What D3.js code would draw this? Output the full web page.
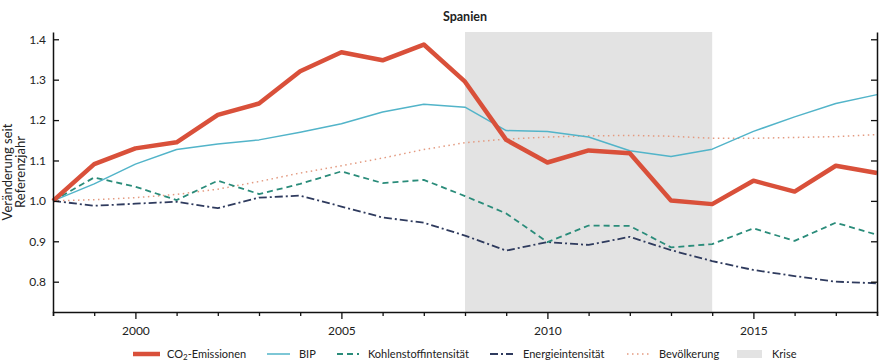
<!DOCTYPE html>
<html>
<head>
<meta charset="utf-8">
<script src="https://cdn.jsdelivr.net/npm/d3@7"></script>
<style>
  body { margin: 0; background: #fff; }
  text { font-family: Lato, "Open Sans", sans-serif; fill: #222; }
</style>
</head>
<body>
<script>
(function () {
  'use strict';

  const width = 880,
    height = 361;

  // data
  var years = d3.range(1998, 2019);
  var co2 = [1.0, 1.091, 1.130, 1.145, 1.213, 1.241, 1.321, 1.368, 1.348, 1.387, 1.295,
    1.151, 1.095, 1.125, 1.118, 1.001, 0.992, 1.050, 1.023, 1.087, 1.069];
  var bip = [1.0, 1.042, 1.091, 1.127, 1.141, 1.151, 1.170, 1.191, 1.220, 1.239, 1.232,
    1.174, 1.172, 1.158, 1.124, 1.110, 1.128, 1.172, 1.208, 1.241, 1.263];
  var kohlenstoff = [1.0, 1.058, 1.035, 1.002, 1.050, 1.017, 1.042, 1.073, 1.044, 1.052, 1.012,
    0.969, 0.898, 0.939, 0.938, 0.885, 0.893, 0.932, 0.901, 0.946, 0.916];
  var energie = [1.0, 0.988, 0.993, 0.998, 0.982, 1.008, 1.013, 0.986, 0.959, 0.946, 0.914,
    0.877, 0.898, 0.891, 0.911, 0.878, 0.851, 0.829, 0.814, 0.800, 0.796];
  var bevoelkerung = [1.0, 1.003, 1.008, 1.016, 1.029, 1.048, 1.069, 1.087, 1.106, 1.127, 1.144,
    1.153, 1.158, 1.161, 1.162, 1.160, 1.155, 1.155, 1.157, 1.159, 1.164];
  var krise = [2008, 2014];
  var yTicks = [0.8, 0.9, 1.0, 1.1, 1.2, 1.3, 1.4];
  var xTicks = [2000, 2005, 2010, 2015];

  var series = [
    { name: 'CO2-Emissionen', values: co2, color: '#d9503a', width: 4.5, dash: null },
    { name: 'BIP', values: bip, color: '#52b4c9', width: 1.5, dash: null },
    { name: 'Kohlenstoffintensität', values: kohlenstoff, color: '#2a8c7a', width: 1.8, dash: '6,4' },
    { name: 'Energieintensität', values: energie, color: '#2f3b5e', width: 1.8, dash: '8,3,2,3' },
    { name: 'Bevölkerung', values: bevoelkerung, color: '#e39a80', width: 1.5, dash: '1.5,3.5' }
  ];

  var margin = { top: 32, right: 3, bottom: 49, left: 53 };

  var svg = d3.select('body')
    .append('svg')
    .attr('width', width)
    .attr('height', height);

  var x = d3.scaleLinear()
    .domain([1998, 2018])
    .range([margin.left, width - margin.right]);

  var y = d3.scaleLinear()
    .domain([0.725, 1.418])
    .range([height - margin.bottom, margin.top]);

  // crisis band
  svg.append('rect')
    .attr('x', x(krise[0]))
    .attr('y', margin.top)
    .attr('width', x(krise[1]) - x(krise[0]))
    .attr('height', y.range()[0] - margin.top)
    .style('fill', '#e3e3e3');

  // lines
  var line = d3.line()
    .x((d, i) => x(years[i]))
    .y(d => y(d));

  // draw thin ones first, CO2 on top
  [4, 3, 2, 1, 0].forEach(function (k) {
    var s = series[k];
    svg.append('path')
      .datum(s.values)
      .attr('d', line)
      .style('fill', 'none')
      .style('stroke', s.color)
      .style('stroke-width', s.width)
      .style('stroke-dasharray', s.dash)
      .style('stroke-linejoin', 'round');
  });

  // axes
  var axisColor = '#111';

  var gLeft = svg.append('g')
    .attr('transform', 'translate(' + margin.left + ',0)')
    .call(d3.axisRight(y).tickValues(yTicks).tickSize(6).tickFormat(d3.format('.1f')).tickSizeOuter(0));
  gLeft.selectAll('text')
    .attr('x', -7)
    .style('text-anchor', 'end')
    .style('font-size', '12px');

  var gRight = svg.append('g')
    .attr('transform', 'translate(' + (width - margin.right) + ',0)')
    .call(d3.axisLeft(y).tickValues(yTicks).tickSize(6).tickFormat('').tickSizeOuter(0));

  var gBottom = svg.append('g')
    .attr('transform', 'translate(0,' + y.range()[0] + ')')
    .call(d3.axisBottom(x).tickValues(years).tickSizeOuter(0)
      .tickSize(4)
      .tickFormat(d => xTicks.includes(d) ? d : ''));
  gBottom.selectAll('.tick line')
    .attr('y2', d => xTicks.includes(d) ? 7 : 4);
  gBottom.selectAll('text')
    .attr('y', 14)
    .style('font-size', '12px');

  [gLeft, gRight, gBottom].forEach(function (g) {
    g.select('.domain').style('stroke', axisColor).style('stroke-width', 1.5);
    g.selectAll('.tick line').style('stroke', axisColor).style('stroke-width', 1.3);
    g.selectAll('text').style('fill', '#222').style('font-family', 'Lato, sans-serif');
  });

  // title
  svg.append('text')
    .attr('x', (margin.left + width - margin.right) / 2)
    .attr('y', 21)
    .attr('text-anchor', 'middle')
    .style('font-size', '12.5px')
    .style('font-weight', 'bold')
    .text('Spanien');

  // y label
  var yl = svg.append('text')
    .attr('transform', 'translate(12,' + (margin.top + height - margin.bottom) / 2 + ') rotate(-90)')
    .attr('text-anchor', 'middle')
    .style('font-size', '13px');
  yl.append('tspan').attr('x', 0).attr('dy', 0).text('Veränderung seit');
  yl.append('tspan').attr('x', 0).attr('dy', 13).text('Referenzjahr');

  // legend
  var legendItems = [
    { s: series[0], x: 133, tx: 167, sw: 27 },
    { s: series[1], x: 267, tx: 299, sw: 23 },
    { s: series[2], x: 337, tx: 368, sw: 22 },
    { s: series[3], x: 490, tx: 523, sw: 23 },
    { s: series[4], x: 627, tx: 659, sw: 23 }
  ];
  var ly = 354;
  legendItems.forEach(function (it) {
    svg.append('line')
      .attr('x1', it.x)
      .attr('x2', it.x + it.sw)
      .attr('y1', ly)
      .attr('y2', ly)
      .style('stroke', it.s.color)
      .style('stroke-width', it.s.width)
      .style('stroke-dasharray', it.s.dash);
  });
  var lbl = svg.append('g').style('font-size', '11px');
  var t0 = lbl.append('text').attr('x', 167).attr('y', 358);
  t0.append('tspan').text('CO');
  t0.append('tspan').attr('dy', 2).style('font-size', '8px').text('2');
  t0.append('tspan').attr('dy', -2).text('-Emissionen');
  legendItems.slice(1).forEach(function (it) {
    lbl.append('text').attr('x', it.tx).attr('y', 358).text(it.s.name);
  });

  svg.append('rect')
    .attr('x', 737)
    .attr('y', ly - 4)
    .attr('width', 25)
    .attr('height', 8)
    .style('fill', '#e3e3e3');
  lbl.append('text').attr('x', 772).attr('y', 358).text('Krise');

})();
</script>
</body>
</html>
